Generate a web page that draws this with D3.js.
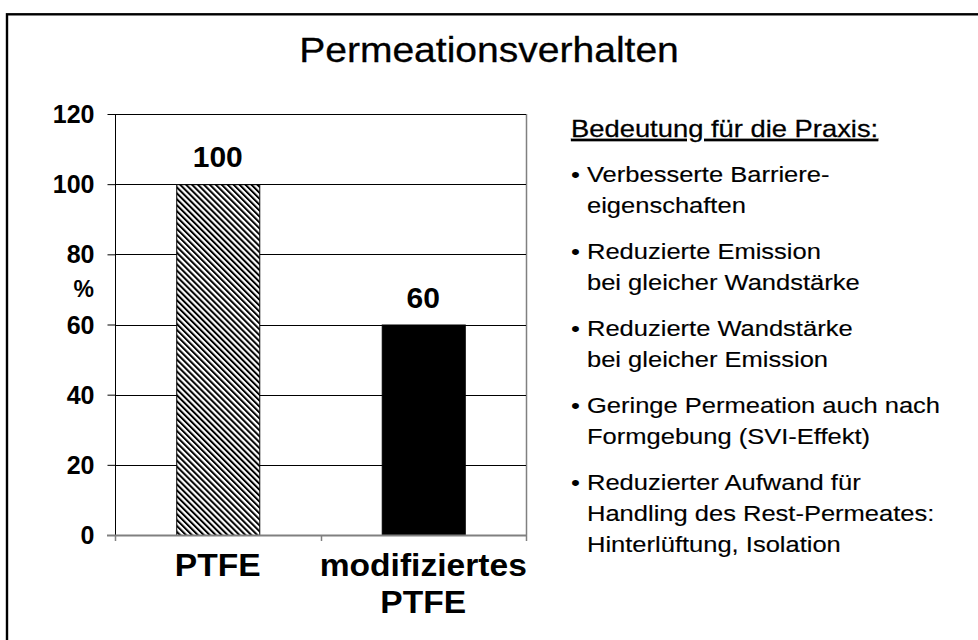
<!DOCTYPE html>
<html>
<head>
<meta charset="utf-8">
<script src="https://cdn.jsdelivr.net/npm/d3@7"></script>
<style>
  html, body { margin: 0; padding: 0; background: #fff; }
  svg { display: block; font-family: "Liberation Sans", Arial, Helvetica, sans-serif; }
</style>
</head>
<body>
<svg id="chart" width="978" height="640"></svg>
<script>
const title = "Permeationsverhalten";
const categories = [["PTFE"], ["modifiziertes", "PTFE"]];
const categoryKeys = ["PTFE", "modifiziertes PTFE"];
const values = [100, 60];
const yTicks = [0, 20, 40, 60, 80, 100, 120];
const yLabel = "%";
const notesHeader = "Bedeutung für die Praxis:";
const notes = [
  ["Verbesserte Barriere-", "eigenschaften"],
  ["Reduzierte Emission", "bei gleicher Wandstärke"],
  ["Reduzierte Wandstärke", "bei gleicher Emission"],
  ["Geringe Permeation auch nach", "Formgebung (SVI-Effekt)"],
  ["Reduzierter Aufwand für", "Handling des Rest-Permeates:", "Hinterlüftung, Isolation"]
];

const svg = d3.select("#chart");

// hatch pattern
const defs = svg.append("defs");
const pat = defs.append("pattern")
  .attr("id", "hatch")
  .attr("patternUnits", "userSpaceOnUse")
  .attr("width", 4.2).attr("height", 10)
  .attr("patternTransform", "rotate(-45)");
pat.append("rect").attr("width", 4.2).attr("height", 10).attr("fill", "#fff");
pat.append("rect").attr("x", 0).attr("width", 2).attr("height", 10).attr("fill", "#000");

// outer frame
svg.append("rect")
  .attr("x", 7).attr("y", 14.3).attr("width", 1000).attr("height", 700)
  .attr("fill", "none").attr("stroke", "#000").attr("stroke-width", 2.4);

// title
svg.append("text")
  .attr("transform", "translate(489,62) scale(1.1,1)")
  .attr("text-anchor", "middle")
  .attr("font-size", 35.5)
  .attr("fill", "#000")
  .attr("stroke", "#000").attr("stroke-width", 0.3)
  .text(title);

// plot
const L = 115, R = 526, T = 114, B = 535;
const y = d3.scaleLinear().domain([0, 120]).range([B, T]);
const x = d3.scaleBand().domain(categoryKeys).range([L, R])
  .paddingInner(0.596).paddingOuter(0.298);
const xb = d3.scaleBand().domain(categoryKeys).range([L, R]);

// plot border (right)
svg.append("line").attr("x1", R + 0.5).attr("x2", R + 0.5).attr("y1", T).attr("y2", B)
  .attr("stroke", "#808080").attr("stroke-width", 1.5);

// gridlines
svg.append("g").selectAll("line").data(yTicks.filter(d => d > 0)).join("line")
  .attr("x1", L).attr("x2", R)
  .attr("y1", d => Math.round(y(d)) + 0.5).attr("y2", d => Math.round(y(d)) + 0.5)
  .attr("stroke", "#000").attr("stroke-width", 1);

// y axis
const yAxis = svg.append("g").attr("transform", `translate(${L + 0.5},0)`)
  .call(d3.axisLeft(y).tickValues(yTicks).tickSize(8).tickPadding(13).tickFormat(d3.format("d")));
yAxis.select(".domain").attr("stroke", "#000").attr("d", `M0,${T}V${B}`);
yAxis.selectAll(".tick line").attr("stroke", "#000");
yAxis.selectAll(".tick text")
  .attr("font-family", "'Liberation Sans', Arial, sans-serif")
  .attr("font-size", 25).attr("font-weight", "bold").attr("fill", "#000")
  .attr("dy", "0.34em");

svg.append("text").attr("x", 94).attr("y", 297).attr("text-anchor", "end")
  .attr("font-size", 23).attr("font-weight", "bold").text(yLabel);

// bars
svg.append("g").selectAll("rect").data(values).join("rect")
  .attr("x", (d, i) => x(categoryKeys[i]) + 0.5)
  .attr("y", d => y(d) + 0.5)
  .attr("width", x.bandwidth())
  .attr("height", d => B - y(d))
  .attr("fill", (d, i) => i === 0 ? "url(#hatch)" : "#000")
  .attr("stroke", "#000").attr("stroke-width", 1);

// value labels
svg.append("g").selectAll("text").data(values).join("text")
  .attr("x", (d, i) => x(categoryKeys[i]) + x.bandwidth() / 2)
  .attr("y", d => y(d) - 17)
  .attr("text-anchor", "middle")
  .attr("font-size", 30).attr("font-weight", "bold")
  .text(d => d);

// x axis
svg.append("line").attr("x1", 107).attr("x2", R + 1).attr("y1", B + 0.5).attr("y2", B + 0.5)
  .attr("stroke", "#808080").attr("stroke-width", 2);
const xTickPos = [L, xb(categoryKeys[1]), R];
svg.append("g").selectAll("line").data(xTickPos).join("line")
  .attr("x1", d => Math.round(d) + 0.5).attr("x2", d => Math.round(d) + 0.5)
  .attr("y1", B).attr("y2", B + 6)
  .attr("stroke", "#808080").attr("stroke-width", 1.5);

// category labels
categories.forEach((lines, i) => {
  const cx = x(categoryKeys[i]) + x.bandwidth() / 2;
  lines.forEach((ln, j) => {
    svg.append("text")
      .attr("transform", `translate(${cx},${576 + j * 37}) scale(1.05,1)`)
      .attr("text-anchor", "middle")
      .attr("font-size", 32).attr("font-weight", "bold")
      .text(ln);
  });
});

// notes
svg.append("text")
  .attr("transform", "translate(571,137) scale(1.19,1)")
  .attr("font-size", 23)
  .attr("text-decoration", "underline")
  .attr("stroke", "#000").attr("stroke-width", 0.25)
  .text(notesHeader);

let lineIdx = 0;
notes.forEach((lines, p) => {
  lines.forEach((ln, j) => {
    const yy = 182 + lineIdx * 30.8 + p * 15.5;
    if (j === 0) {
      svg.append("text")
        .attr("transform", `translate(571,${yy}) scale(1.16,1)`)
        .attr("font-size", 22).text("•");
    }
    svg.append("text")
      .attr("transform", `translate(587,${yy}) scale(1.16,1)`)
      .attr("font-size", 22)
      .attr("stroke", "#000").attr("stroke-width", 0.15)
      .text(ln);
    lineIdx++;
  });
});
</script>
</body>
</html>
